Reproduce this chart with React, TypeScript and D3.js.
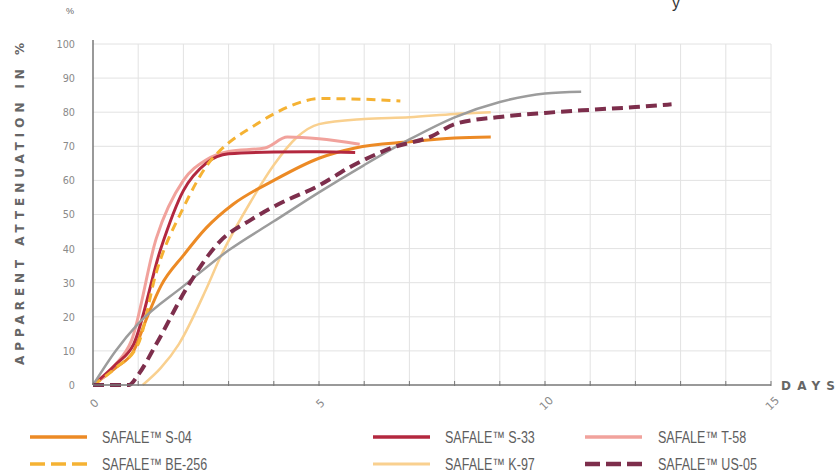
import React from "react";
import * as d3 from "d3";

type Pt = [number, number];

const yTicks = [0, 10, 20, 30, 40, 50, 60, 70, 80, 90, 100];
const xTickLabels = [0, 5, 10, 15];
const xDays = d3.range(0, 16);

const greyLine: Pt[] = [[0, 0], [0.5, 10], [1, 18], [2, 29], [3, 39.5], [4, 48], [5, 56.5], [6, 64.5], [7, 72], [8, 78.5], [9, 83], [10, 85.5], [10.8, 86]];
const s04: Pt[] = [[0, 0], [0.5, 5], [0.9, 10], [1.2, 20], [1.5, 29], [2, 38], [2.5, 46], [3.1, 53], [4, 60], [5, 66.5], [5.8, 69.5], [7, 71.3], [8, 72.4], [8.8, 72.7]];
const s33: Pt[] = [[0, 0], [0.5, 6], [0.9, 12], [1.5, 40], [2, 57], [2.5, 65], [3, 67.8], [4, 68.3], [5, 68.4], [5.8, 68.2]];
const t58: Pt[] = [[0, 0], [0.5, 6], [0.85, 13], [1.4, 43], [2, 60], [2.5, 66], [3, 68.5], [3.8, 69.5], [4.3, 72.7], [5, 72.2], [5.9, 70.6]];
const be256: Pt[] = [[0, 0], [0.5, 5], [1, 12], [1.4, 33], [2, 52], [2.5, 64], [3, 71], [3.5, 75.5], [4, 79.5], [4.5, 82.5], [5, 84], [6, 83.8], [6.8, 83.3]];
const k97: Pt[] = [[1.1, 0], [1.5, 5], [1.9, 12], [2.5, 28], [2.8, 37], [3.5, 54], [4, 64.5], [4.5, 72.5], [5, 76.5], [6, 78], [7, 78.5], [8, 79.5], [8.8, 80]];
const us05: Pt[] = [[0, 0], [0.8, 0], [1, 3], [1.4, 12], [2.1, 29], [2.8, 42], [3.5, 48.5], [4.1, 53], [5, 58.5], [5.7, 64], [6.6, 69.5], [7.5, 73], [8, 76.5], [9, 78.6], [10, 79.8], [11, 80.7], [12, 81.5], [12.8, 82.3]];

const seriesNames = ["SAFALE™ S-04", "SAFALE™ S-33", "SAFALE™ T-58", "SAFALE™ BE-256", "SAFALE™ K-97", "SAFALE™ US-05"];
const seriesData = [s04, s33, t58, be256, k97, us05];

const styles = [
  { color: "#ec8a25", width: 3, dash: "" },
  { color: "#b3283f", width: 3, dash: "" },
  { color: "#f1a29c", width: 3, dash: "" },
  { color: "#f5b233", width: 3, dash: "9,6" },
  { color: "#f9d08f", width: 2.5, dash: "" },
  { color: "#7d2e4c", width: 4, dash: "11,6" },
];

const W = 838;
const H = 476;
const x0 = 93, x1 = 771, yTop = 44, yBot = 385;

export default function App() {
  const x = d3.scaleLinear().domain([0, 15]).range([x0, x1]);
  const y = d3.scaleLinear().domain([0, 100]).range([yBot, yTop]);
  const line = d3.line<Pt>().x(d => x(d[0])).y(d => y(d[1])).curve(d3.curveMonotoneX);
  const font = "'Liberation Sans', Arial, sans-serif";
  const legendLineX = [30, 373, 585];
  const legendTextX = [102, 445, 658];
  const legendRows = [437, 464];
  const drawOrder = [4, 0, 2, 1, 3];

  return (
    <svg width={W} height={H} style={{ position: "absolute", left: 0, top: 0, background: "#fff" }}>
      <rect x={0} y={0} width={W} height={H} fill="#fff" />
      <text x={672} y={8} fontSize={16} fill="#333" fontFamily={font}>y</text>
      <text x={70} y={14} fontSize={9} fill="#666" fontFamily={font} textAnchor="middle">%</text>
      {/* grid */}
      {yTicks.filter(t => t > 0).map(t => (
        <line key={"h" + t} x1={x0} x2={x1} y1={y(t)} y2={y(t)} stroke="#e2e2e2" strokeWidth={1} />
      ))}
      {xDays.filter(t => t > 0).map(t => (
        <line key={"v" + t} x1={x(t)} x2={x(t)} y1={yTop} y2={yBot} stroke="#e2e2e2" strokeWidth={1} />
      ))}
      {/* y labels */}
      {yTicks.map(t => (
        <text key={"yl" + t} x={75} y={y(t) + 4} fontSize={11} fill="#8a8a8a" textAnchor="end" fontFamily="'DejaVu Sans', sans-serif" transform={`translate(${75 * 0.12},0) scale(0.88,1)`}>{t}</text>
      ))}
      <text transform={`translate(24,${204}) rotate(-90)`} textAnchor="middle" fontSize={12} fontWeight="bold" fill="#666" textLength={322} lengthAdjust="spacing" fontFamily="'DejaVu Sans', sans-serif">APPARENT ATTENUATION IN %</text>
      {/* series */}
      {drawOrder.map(i => (
        <path key={"s" + i} d={line(seriesData[i]) || ""} fill="none" stroke={styles[i].color} strokeWidth={styles[i].width} strokeDasharray={styles[i].dash} strokeLinejoin="round" />
      ))}
      <path d={line(greyLine) || ""} fill="none" stroke="#9c9c9c" strokeWidth={2.5} />
      <path d={line(seriesData[5]) || ""} fill="none" stroke={styles[5].color} strokeWidth={styles[5].width} strokeDasharray={styles[5].dash} />
      {/* axes */}
      <line x1={x0} x2={x0} y1={yTop - 4} y2={yBot} stroke="#777" strokeWidth={1.5} />
      <line x1={x0} x2={x1} y1={yBot} y2={yBot} stroke="#777" strokeWidth={1.5} />
      {xDays.filter(t => t > 0).map(t => (
        <line key={"xt" + t} x1={x(t)} x2={x(t)} y1={yBot - 4} y2={yBot + 1} stroke="#777" strokeWidth={1} />
      ))}
      {xTickLabels.map(t => (
        <text key={"xl" + t} transform={`translate(${x(t) + 4},${yBot + 21}) rotate(-45)`} textAnchor="middle" fontSize={11} fill="#8a8a8a" fontFamily="'DejaVu Sans', sans-serif">{t}</text>
      ))}
      <text x={781} y={yBot + 5} fontSize={12} fontWeight="bold" fill="#666" textLength={54} lengthAdjust="spacing" fontFamily="'DejaVu Sans', sans-serif">DAYS</text>
      {/* legend */}
      {seriesNames.map((name, i) => {
        const lx = legendLineX[i % 3];
        const tx = legendTextX[i % 3];
        const cy = legendRows[Math.floor(i / 3)];
        const st = styles[i];
        return (
          <g key={"lg" + i}>
            <line x1={lx} x2={lx + 57} y1={cy} y2={cy} stroke={st.color} strokeWidth={st.width + 0.5} strokeDasharray={st.dash ? "15,6" : ""} />
            <text transform={`translate(${tx},${cy + 5.5}) scale(0.76,1)`} fontSize={16.5} fill="#5e5e5e" fontFamily={font}>{name}</text>
          </g>
        );
      })}
    </svg>
  );
}
